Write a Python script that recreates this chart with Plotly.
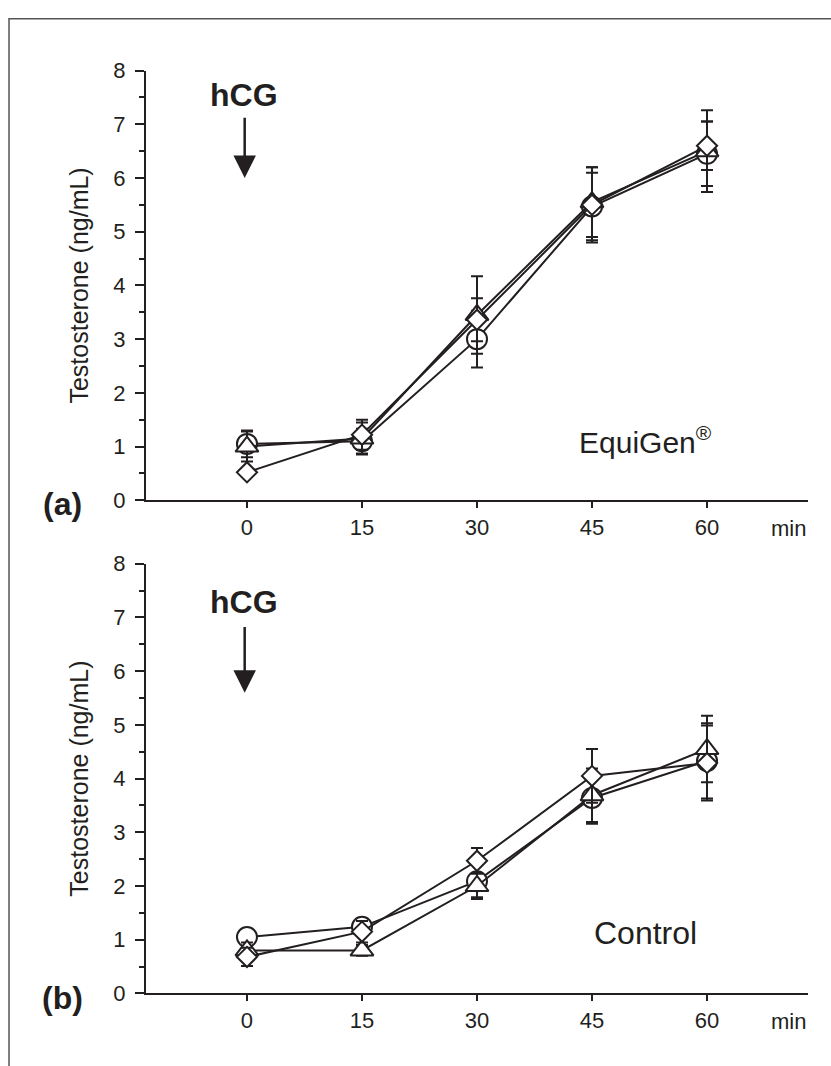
import plotly.graph_objects as go

W, H = 831, 1066

# ---------------- data ----------------
minutes = [0, 15, 30, 45, 60]
x_ticks = [0, 15, 30, 45, 60]
x_tick_labels = ["0", "15", "30", "45", "60"]
y_ticks = [0, 1, 2, 3, 4, 5, 6, 7, 8]

# Panel (a) EquiGen
a_circle = [1.05, 1.10, 3.00, 5.47, 6.45]
a_circle_err = [0.25, 0.23, 0.53, 0.63, 0.60]
a_triangle = [1.00, 1.15, 3.45, 5.55, 6.50]
a_triangle_err = [0.28, 0.30, 0.72, 0.65, 0.76]
a_diamond = [0.52, 1.22, 3.36, 5.50, 6.60]
a_diamond_err = [0.08, 0.28, 0.40, 0.70, 0.45]

# Panel (b) Control
b_circle = [1.05, 1.24, 2.09, 3.64, 4.33]
b_circle_err = [0.12, 0.12, 0.30, 0.48, 0.70]
b_triangle = [0.80, 0.80, 2.00, 3.69, 4.55]
b_triangle_err = [0.15, 0.10, 0.24, 0.50, 0.62]
b_diamond = [0.68, 1.15, 2.47, 4.05, 4.29]
b_diamond_err = [0.17, 0.20, 0.24, 0.50, 0.70]

panel_a_label = "EquiGen<sup>®</sup>"
panel_b_label = "Control"
y_title = "Testosterone (ng/mL)"

FONT = "Liberation Sans, Arial, Helvetica, sans-serif"
BLACK = "#231f20"

fig = go.Figure()

def add_series(y, err, symbol, size, xa, ya):
    fig.add_trace(go.Scatter(
        x=minutes, y=y, mode="lines+markers",
        xaxis=xa, yaxis=ya,
        line=dict(color=BLACK, width=2),
        marker=dict(symbol=symbol, size=size, color="white",
                    line=dict(color=BLACK, width=2)),
        error_y=dict(type="data", array=err, visible=True,
                     color=BLACK, thickness=2, width=6),
        cliponaxis=False, showlegend=False,
    ))

for (c, ce, t, te, d, de, xa, ya) in [
    (a_circle, a_circle_err, a_triangle, a_triangle_err, a_diamond, a_diamond_err, "x", "y"),
    (b_circle, b_circle_err, b_triangle, b_triangle_err, b_diamond, b_diamond_err, "x2", "y2"),
]:
    add_series(c, ce, "circle", 20, xa, ya)
    add_series(t, te, "triangle-up", 20, xa, ya)
    add_series(d, de, "diamond", 15.5, xa, ya)

x_dom = [146 / W, 808 / W]
ya_dom = [(H - 500) / H, (H - 60) / H]
yb_dom = [(H - 1005) / H, (H - 565) / H]
x_range = [-13.17, 73.17]

xaxis_common = dict(
    range=x_range, domain=x_dom, showline=True, linecolor=BLACK, linewidth=2,
    ticks="outside", ticklen=6, tickwidth=2, tickcolor=BLACK,
    tickvals=x_ticks, ticktext=x_tick_labels, showgrid=False, zeroline=False,
    tickfont=dict(family=FONT, size=22, color=BLACK), fixedrange=True,
)
yaxis_common = dict(
    range=[0, 8], showline=True, linecolor=BLACK, linewidth=2,
    ticks="outside", ticklen=9, tickwidth=2, tickcolor=BLACK,
    tickvals=y_ticks, showgrid=False, zeroline=False, ticklabelstandoff=5,
    minor=dict(dtick=0.5, ticks="outside", ticklen=5, tickwidth=2, tickcolor=BLACK, showgrid=False),
    tickfont=dict(family=FONT, size=22, color=BLACK), fixedrange=True,
    title=dict(text=y_title, font=dict(family=FONT, size=25, color=BLACK), standoff=18),
)

fig.update_layout(
    width=W, height=H, margin=dict(l=0, r=0, t=0, b=0),
    plot_bgcolor="white", paper_bgcolor="white",
    xaxis=dict(**xaxis_common, anchor="y"),
    yaxis=dict(**yaxis_common, domain=ya_dom, anchor="x"),
    xaxis2=dict(**xaxis_common, anchor="y2"),
    yaxis2=dict(**yaxis_common, domain=yb_dom, anchor="x2"),
)

anns = []
for xa, ya, lab, lab_size, hcg_y, tail, tip in [
        ("x", "y", panel_a_label, 30, 7.55, 7.15, 6.0),
        ("x2", "y2", panel_b_label, 32, 7.28, 6.85, 5.6)]:
    # hCG text
    anns.append(dict(xref=xa, yref=ya, x=-0.4, y=hcg_y, text="<b>hCG</b>", showarrow=False,
                     xanchor="center", yanchor="middle",
                     font=dict(family=FONT, size=32, color=BLACK)))
    # arrow
    anns.append(dict(xref=xa, yref=ya, x=-0.3, y=tip, ax=-0.3, ay=tail,
                     axref=xa, ayref=ya, text="",
                     showarrow=True, arrowhead=2, arrowsize=1.8, arrowwidth=2.5,
                     arrowcolor=BLACK))
    # condition label
    anns.append(dict(xref=xa, yref=ya, x=52, y=1.12, text=lab, showarrow=False,
                     xanchor="center", yanchor="middle",
                     font=dict(family=FONT, size=lab_size, color=BLACK)))
    # min unit
    anns.append(dict(xref=xa + " domain", yref=ya + " domain", x=1, y=0, yshift=-28,
                     xanchor="right", yanchor="middle", text="min", showarrow=False,
                     font=dict(family=FONT, size=22, color=BLACK)))

# panel letters
anns.append(dict(xref="paper", yref="paper", x=62 / W, y=(H - 504) / H, text="<b>(a)</b>",
                 xanchor="center", yanchor="middle",
                 showarrow=False, font=dict(family=FONT, size=32, color=BLACK)))
anns.append(dict(xref="paper", yref="paper", x=62 / W, y=(H - 1010) / H, text="<b>(b)</b>",
                 xanchor="center", yanchor="middle",
                 showarrow=False, font=dict(family=FONT, size=32, color=BLACK)))
fig.update_layout(annotations=anns)

# frame (left and top edges)
fig.add_shape(type="path", xref="paper", yref="paper",
              path=f"M {9/W},-0.02 L {9/W},{(H-7)/H} L 1.01,{(H-7)/H}",
              line=dict(color="#555555", width=1.5))

fig.write_html("out.html",
               config={"displayModeBar": False, "staticPlot": True},
               post_script="document.body.style.margin='0';document.body.style.overflow='hidden';")
